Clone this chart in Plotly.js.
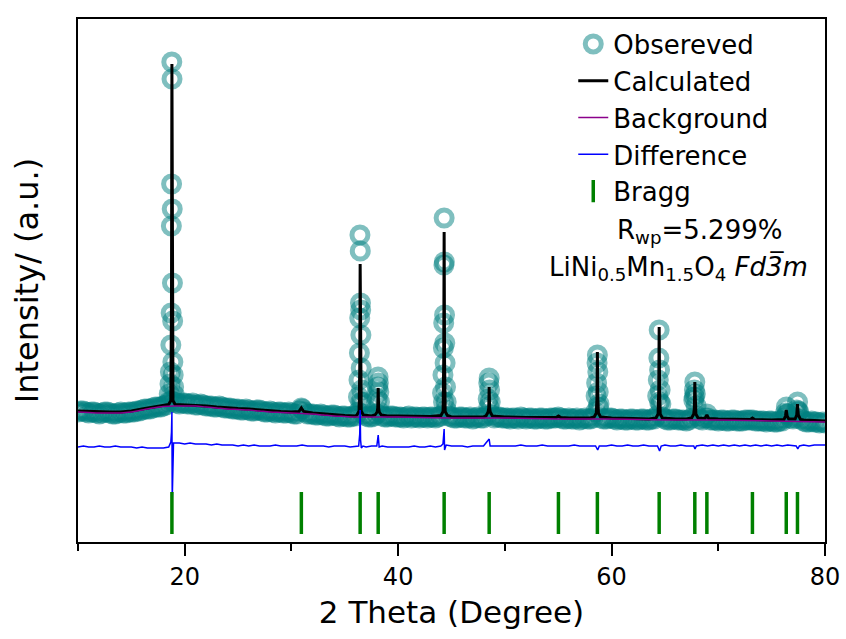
<!DOCTYPE html>
<html>
<head>
<meta charset="utf-8">
<script src="https://cdn.plot.ly/plotly-3.0.1.min.js"></script>
<style>html,body{margin:0;padding:0;background:#fff;}</style>
</head>
<body>
<div id="chart" style="width:846px;height:639px;"></div>
<script>
// ---- Data (intensity in arbitrary units) ----
const obsX = [
 10.0,10.5,11.0,11.5,12.0,12.5,13.0,13.5,14.0,14.5,15.0,15.5,16.0,16.5,17.0,17.5,18.0,18.5,19.0,19.5,
 20.0,20.5,21.0,21.5,22.0,22.5,23.0,23.5,24.0,24.5,25.0,25.5,26.0,26.5,27.0,27.5,28.0,28.5,29.0,29.5,
 30.0,30.5,31.0,31.5,32.0,32.5,33.0,33.5,34.0,34.5,35.0,35.5,36.0,36.5,37.0,37.5,38.0,38.5,39.0,39.5,
 40.0,40.5,41.0,41.5,42.0,42.5,43.0,43.5,44.0,44.5,45.0,45.5,46.0,46.5,47.0,47.5,48.0,48.5,49.0,49.5,
 50.0,50.5,51.0,51.5,52.0,52.5,53.0,53.5,54.0,54.5,55.0,55.5,56.0,56.5,57.0,57.5,58.0,58.5,59.0,59.5,
 60.0,60.5,61.0,61.5,62.0,62.5,63.0,63.5,64.0,64.5,65.0,65.5,66.0,66.5,67.0,67.5,68.0,68.5,69.0,69.5,
 70.0,70.5,71.0,71.5,72.0,72.5,73.0,73.5,74.0,74.5,75.0,75.5,76.0,76.5,77.0,77.5,78.0,78.5,79.0,79.5,80.0,
 10.25,10.75,11.25,11.75,12.25,12.75,13.25,13.75,14.25,14.75,15.25,15.75,16.25,16.75,17.25,17.75,18.25,18.75,19.25,19.75,
 20.25,20.75,21.25,21.75,22.25,22.75,23.25,23.75,24.25,24.75,25.25,25.75,26.25,26.75,27.25,27.75,28.25,28.75,29.25,29.75,
 30.25,30.75,31.25,31.75,32.25,32.75,33.25,33.75,34.25,34.75,35.25,35.75,36.25,36.75,37.25,37.75,38.25,38.75,39.25,39.75,
 40.25,40.75,41.25,41.75,42.25,42.75,43.25,43.75,44.25,44.75,45.25,45.75,46.25,46.75,47.25,47.75,48.25,48.75,49.25,49.75,
 50.25,50.75,51.25,51.75,52.25,52.75,53.25,53.75,54.25,54.75,55.25,55.75,56.25,56.75,57.25,57.75,58.25,58.75,59.25,59.75,
 60.25,60.75,61.25,61.75,62.25,62.75,63.25,63.75,64.25,64.75,65.25,65.75,66.25,66.75,67.25,67.75,68.25,68.75,69.25,69.75,
 70.25,70.75,71.25,71.75,72.25,72.75,73.25,73.75,74.25,74.75,75.25,75.75,76.25,76.75,77.25,77.75,78.25,78.75,79.25,79.75,
 18.55,18.62,18.66,18.70,18.73,18.75,18.77,18.79,18.81,18.83,18.85,18.87,18.89,18.92,18.96,19.02,
 30.93,
 36.28,36.33,36.37,36.40,36.42,36.45,36.47,36.49,36.51,36.54,36.58,36.64,
 38.04,38.09,38.12,38.15,38.19,38.25,
 44.16,44.20,44.24,44.27,44.29,44.31,44.33,44.35,44.37,44.40,44.44,44.50,
 48.44,48.49,48.53,48.57,48.63,
 58.55,58.60,58.64,58.67,58.71,58.75,58.82,
 64.32,64.38,64.43,64.46,64.50,64.55,64.62,
 67.70,67.76,67.80,67.85,67.92,
 68.93,
 76.30,76.38,76.45,
 77.35,77.43,77.50
];
const obsY = [
 130,131,129,130,128,130,129,128,130,129,130,131,132,133,134,135,136,140,140,138,
 139,138,137,138,136,136,135,135,134,133,133,132,132,131,132,130,131,129,130,129,
 129,128,133,128,128,127,127,126,127,125,126,125,126,140,126,125,128,126,125,126,
 125,124,126,125,124,125,125,124,126,132,125,124,125,124,123,125,124,135,124,125,
 124,123,124,125,123,124,123,124,123,124,125,123,124,123,122,124,123,130,124,123,
 124,122,123,122,123,122,123,122,123,140,123,122,123,122,121,124,126,122,124,122,
 121,122,121,122,121,122,122,121,121,120,121,120,121,128,123,130,121,120,120,119,119,
 131,130,130,129,129,130,128,129,129,130,130,131,133,133,135,135,137,141,139,139,
 138,139,137,137,136,135,136,134,134,133,132,133,131,132,131,130,130,130,129,130,
 128,131,130,128,127,128,126,127,126,126,125,126,130,128,125,126,130,125,126,125,
 125,125,124,125,125,124,125,125,140,126,124,125,124,125,124,124,126,127,125,124,
 124,124,123,124,124,123,124,123,124,124,124,123,123,124,123,123,124,135,123,124,
 123,123,122,123,122,123,122,123,126,125,122,123,122,122,122,145,123,124,122,122,
 122,121,122,121,121,122,122,121,121,121,120,121,124,124,124,123,120,121,120,120,
 148,158,170,197,229,316,358,480,463,333,259,221,180,167,155,147,
 134,
 145,162,189,224,307,291,239,232,207,174,152,140,
 143,155,165,159,150,140,
 149,167,194,219,277,324,280,227,199,179,155,140,
 143,159,164,152,140,
 146,159,179,187,170,150,138,
 146,162,184,212,172,152,138,
 142,152,160,148,136,
 128,
 129,135,128,
 132,140,131
];

const calcX = [
 10,11,12,13,14,15,16,17,18,
 18.50,18.70,18.76,18.80,18.84,18.90,19.10,
 20,21,22,23,24,25,26,27,28,29,30,
 30.70,30.93,31.15,
 32,33,34,35,36,
 36.14,36.34,36.40,36.44,36.48,36.54,36.74,
 37.5,
 37.83,38.03,38.09,38.13,38.17,38.23,38.43,
 39,40,41,42,43,
 44.01,44.21,44.27,44.31,44.35,44.41,44.61,
 45,46,47,48,
 48.23,48.43,48.49,48.53,48.57,48.63,48.83,
 50,52,54,
 54.80,55.02,55.25,
 56,57,58,
 58.37,58.57,58.63,58.67,58.71,58.77,58.97,
 60,62,63.5,
 64.16,64.36,64.42,64.46,64.50,64.56,64.76,
 66,67,
 67.50,67.70,67.76,67.80,67.84,67.90,68.10,
 68.75,68.93,69.10,
 70,72,
 73.0,73.2,73.4,
 75,76,
 76.15,76.30,76.37,76.45,76.60,
 77.20,77.35,77.42,77.50,77.70,
 78,79,80
];
const calcY = [
 131,130.5,130,130,130,131,133,135,136.5,
 137.5,141.5,239,478,239,141.5,137.5,
 137,137,136,135,134,133.5,133,132,131,130.5,130,
 130.5,134,130.5,
 129,128,127,126.5,126,
 127,131,172,278,172,131,127,
 126,
 127,130,134,154,134,130,127,
 126,126,126,125.5,125.5,
 126.5,130.5,181,310,181,130.5,126.5,
 125,125,125,125,
 126,130,134,155,134,130,126,
 125,124.5,124,
 124.5,126,124.5,
 124,124,124,
 125,129,144,190,144,129,125,
 124,123.5,123,
 124,128,151,215,151,128,124,
 123,123,
 124,128,134,160,134,128,124,
 123.5,127,123.5,
 123,122.5,
 122.5,124,122.5,
 122,122,
 122.5,126,132,126,123,
 123,127,138,127,122.5,
 122,121.5,121
];

const bgX = [10,11,12,13,14,15,16,17,18,19,20,21,22,23,24,25,26,27,28,29,30,31,32,33,34,35,36,38,40,45,50,55,60,65,70,75,80];
const bgY = [130,129.5,129,129,129,130,132,134,135.5,136,136,136,135,134,133,132.5,132,131,130,129.5,129,128.5,128,127,126,125.5,125,125,125,124,124,123,123,122,122,121,120];

const diffX = [
 10,10.5,11,11.5,12,12.5,13,13.5,14,14.5,15,15.5,16,16.5,17,17.5,18,18.5,
 18.70,18.76,18.80,18.83,18.88,18.95,
 19.5,20,20.5,21,21.5,22,22.5,23,23.5,24,24.5,25,25.5,26,26.5,27,27.5,28,28.5,29,29.5,30,30.5,31,31.5,
 32,32.5,33,33.5,34,34.5,35,35.5,36,
 36.30,36.40,36.44,36.48,36.55,36.70,
 37,37.5,38,38.13,38.22,38.5,39,39.5,40,40.5,41,41.5,42,42.5,43,43.5,44,
 44.20,44.27,44.31,44.35,44.42,
 44.5,45,45.5,46,46.5,47,47.5,48,48.53,48.62,49,49.5,50,50.5,51,51.5,52,52.5,53,53.5,54,54.5,55,55.5,56,56.5,57,57.5,58,58.5,
 58.70,58.85,
 59,59.5,60,60.5,61,61.5,62,62.5,63,63.5,64,64.3,64.50,64.65,65,65.5,66,66.5,67,67.5,
 67.70,67.82,67.95,
 68.5,69,69.5,70,70.5,71,71.5,72,72.5,73,73.5,74,74.5,75,75.5,76,76.5,77,77.3,77.45,77.6,78,78.5,79,79.5,80
];
const diffY = [
 95,96,95,95,96,95,95,96,95,95,95,94,95,94,94,94,94,95,
 100,110,130,42,92,99,
 99,98,99,98,98,98,97,98,97,97,97,96,97,96,97,96,96,96,97,96,96,96,96,97,96,
 96,96,96,95,96,96,96,95,96,
 96,108,132,102,94,96,
 95,96,96,107,95,96,95,95,95,95,95,96,95,95,96,95,96,
 98,106,113,92,96,
 97,96,96,96,95,96,96,96,103,96,96,96,96,96,96,97,96,96,96,97,96,96,96,96,96,97,96,96,96,96,
 92,96,
 96,96,97,96,96,97,96,96,97,96,96,96,91,96,97,96,96,97,96,96,
 96,93,96,
 97,96,97,96,97,96,97,96,97,96,97,96,97,96,97,96,97,96,96,93,96,97,96,97,97,97
];

const braggPos = [18.80,30.93,36.44,38.13,44.31,48.53,55.02,58.67,64.46,67.80,68.93,73.20,76.37,77.42];
const braggLevel = 29;

const seriesNames = ["Obsereved","Calculated","Background","Difference","Bragg"];
const rwpText = "R<sub>wp</sub>=5.299%";
const phaseText = "LiNi<sub>0.5</sub>Mn<sub>1.5</sub>O<sub>4</sub> <i>Fd3\u0305m</i>";
const xTitle = "2 Theta (Degree)";
const yTitle = "Intensity/ (a.u.)";

// ---- Traces ----
const FONT = "DejaVu Sans, Liberation Sans, Arial, sans-serif";
const traces = [
  {x: obsX, y: obsY, type: "scatter", mode: "markers", name: seriesNames[0],
   marker: {symbol: "circle-open", size: 16, color: "rgba(0,128,128,0.5)", line: {width: 5}}},
  {x: calcX, y: calcY, type: "scatter", mode: "lines", name: seriesNames[1],
   line: {color: "#000000", width: 3}},
  {x: bgX, y: bgY, type: "scatter", mode: "lines", name: seriesNames[2],
   line: {color: "#8b008b", width: 1.5, shape: "spline"}},
  {x: diffX, y: diffY, type: "scatter", mode: "lines", name: seriesNames[3],
   line: {color: "#0000ff", width: 1.5}},
  {x: braggPos, y: braggPos.map(() => braggLevel), type: "scatter", mode: "markers", name: seriesNames[4],
   marker: {symbol: "line-ns", size: 30, color: "#008000", line: {color: "#008000", width: 3.5}}}
];

const layout = {
  width: 846, height: 639,
  margin: {l: 78, r: 21, t: 19, b: 97},
  paper_bgcolor: "#ffffff", plot_bgcolor: "#ffffff",
  font: {family: FONT, color: "#000000"},
  showlegend: true,
  legend: {x: 0.663, y: 0.997, xanchor: "left", yanchor: "top",
           font: {family: FONT, size: 26, color: "#000"},
           bgcolor: "rgba(0,0,0,0)", borderwidth: 0, tracegroupgap: 0},
  xaxis: {range: [10, 80], tick0: 0, dtick: 20, ticks: "outside", ticklen: 12, tickwidth: 2,
          tickcolor: "#000", showline: true, linewidth: 2, linecolor: "#000", mirror: true,
          showgrid: false, zeroline: false,
          minor: {dtick: 10, ticks: "outside", ticklen: 7, tickwidth: 2, tickcolor: "#000", showgrid: false},
          tickfont: {family: FONT, size: 24, color: "#000"},
          title: {text: xTitle, font: {family: FONT, size: 31, color: "#000"}, standoff: 12}},
  yaxis: {range: [0, 523], showticklabels: false, ticks: "", showline: true, linewidth: 2,
          linecolor: "#000", mirror: true, showgrid: false, zeroline: false,
          title: {text: yTitle, font: {family: FONT, size: 32, color: "#000"}, standoff: 28}},
  annotations: [
    {xref: "paper", yref: "paper", x: 0.719, y: 0.594, xanchor: "left", yanchor: "middle",
     text: rwpText, showarrow: false, font: {family: FONT, size: 26, color: "#000"}},
    {xref: "paper", yref: "paper", x: 0.628, y: 0.524, xanchor: "left", yanchor: "middle",
     text: phaseText, showarrow: false, font: {family: FONT, size: 26, color: "#000"}}
  ]
};

Plotly.newPlot("chart", traces, layout, {displayModeBar: false, staticPlot: true});
</script>
</body>
</html>
